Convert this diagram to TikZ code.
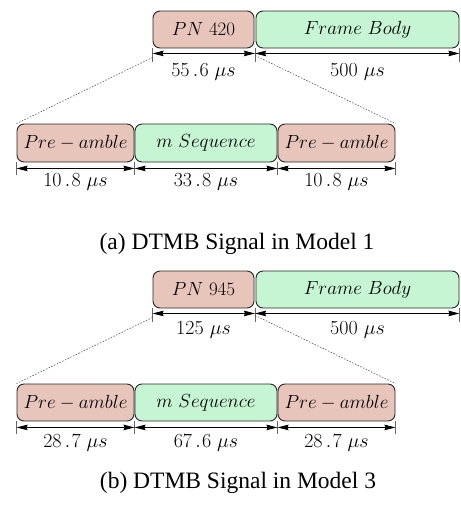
\RequirePackage{fix-cm}
\documentclass[tikz,border=0pt]{standalone}
\usepackage[no-math]{fontspec}
\newfontfamily\capfont{Liberation Serif}
\usetikzlibrary{arrows.meta,calc}
\definecolor{pinkfill}{RGB}{232,197,187}
\definecolor{greenfill}{RGB}{198,245,211}
\newcommand{\dotp}{\mkern3mu.\mkern1mu}
\tikzset{
  seg/.style={draw=black!85, line width=0.9pt, rounded corners=7pt, inner sep=0pt,
     minimum height=37pt, font=\fontsize{19}{22}\selectfont},
  pinkseg/.style={seg, fill=pinkfill},
  greenseg/.style={seg, fill=greenfill},
  tick/.style={draw=black!60, line width=0.6pt},
  dim/.style={draw=black, line width=0.8pt, {Stealth[length=11pt,width=5.5pt,inset=1pt]}-{Stealth[length=11pt,width=5.5pt,inset=1pt]}},
  dimlabel/.style={font=\fontsize{20}{22}\selectfont, inner sep=0pt},
  zoomline/.style={draw=black!65, line width=0.6pt, dash pattern=on 1.5pt off 1.5pt},
  caption/.style={inner sep=0pt}
}
\begin{document}
\begin{tikzpicture}[x=1pt,y=-1pt]
\useasboundingbox (0,0) rectangle (461,512);

% ---------- (a) ----------
\node[pinkseg, minimum width=101pt] (pn1) at (203.5,29.5) {$PN\ 420$};
\node[greenseg, minimum width=203pt] (fb1) at (357.5,29.5) {$Frame\ Body$};
\node[pinkseg, minimum width=117pt, minimum height=38pt] (pa1) at (75.5,143) {$Pre-amble$};
\node[greenseg, minimum width=142pt, minimum height=38pt] (ms1) at (206,143) {$m\ Sequence$};
\node[pinkseg, minimum width=117pt, minimum height=38pt] (pb1) at (336.5,143) {$Pre-amble$};

% ticks upper (a)
\draw[tick] (pn1.south west) -- ++(0,14);
\draw[tick] ($(pn1.south east)!0.5!(fb1.south west)$) coordinate (t1m) -- ++(0,14);
\draw[tick] (fb1.south east) -- ++(0,14);
\draw[dim] ([yshift=-5pt]pn1.south west) -- ([yshift=-5pt]t1m);
\draw[dim] ([yshift=-5pt]t1m) -- ([yshift=-5pt]fb1.south east);
\node[dimlabel] (l1) at ($(pn1.south)+(0,24)$) {$55\dotp6\ \mu s$};
\node[dimlabel] (l2) at ($(fb1.south)+(0,24)$) {$500\ \mu s$};

% ticks lower (a)
\draw[tick] (pa1.south west) -- ++(0,13);
\draw[tick] ($(pa1.south east)!0.5!(ms1.south west)$) coordinate (t2a) -- ++(0,13);
\draw[tick] ($(ms1.south east)!0.5!(pb1.south west)$) coordinate (t2b) -- ++(0,13);
\draw[tick] (pb1.south east) -- ++(0,13);
\draw[dim] ([yshift=-6pt]pa1.south west) -- ([yshift=-6pt]t2a);
\draw[dim] ([yshift=-6pt]t2a) -- ([yshift=-6pt]t2b);
\draw[dim] ([yshift=-6pt]t2b) -- ([yshift=-6pt]pb1.south east);
\node[dimlabel] (l3) at ($(pa1.south)+(0,20)$) {$10\dotp8\ \mu s$};
\node[dimlabel] (l4) at ($(ms1.south)+(0,20)$) {$33\dotp8\ \mu s$};
\node[dimlabel] (l5) at ($(pb1.south)+(0,20)$) {$10\dotp8\ \mu s$};

% zoom lines (a)
\draw[zoomline] ([yshift=-9pt]pn1.south west) -- (pa1.north west);
\draw[zoomline] ([yshift=-7pt]t1m) -- (pb1.north east);

\node[caption] (capa) at (237,244) {\capfont\fontsize{23.5}{26}\selectfont (a) DTMB Signal in Model 1};

% ---------- (b) ----------
\node[pinkseg, minimum width=101pt] (pn2) at (203.5,289.5) {$PN\ 945$};
\node[greenseg, minimum width=203pt] (fb2) at (357.5,289.5) {$Frame\ Body$};
\node[pinkseg, minimum width=117pt] (pa2) at (75.5,402.5) {$Pre-amble$};
\node[greenseg, minimum width=142pt] (ms2) at (206,402.5) {$m\ Sequence$};
\node[pinkseg, minimum width=117pt] (pb2) at (336.5,402.5) {$Pre-amble$};

\draw[tick] (pn2.south west) -- ++(0,14);
\draw[tick] ($(pn2.south east)!0.5!(fb2.south west)$) coordinate (t3m) -- ++(0,14);
\draw[tick] (fb2.south east) -- ++(0,14);
\draw[dim] ([yshift=-5pt]pn2.south west) -- ([yshift=-5pt]t3m);
\draw[dim] ([yshift=-5pt]t3m) -- ([yshift=-5pt]fb2.south east);
\node[dimlabel] (l6) at ($(pn2.south)+(0,22)$) {$125\ \mu s$};
\node[dimlabel] (l7) at ($(fb2.south)+(0,22)$) {$500\ \mu s$};

\draw[tick] (pa2.south west) -- ++(0,13);
\draw[tick] ($(pa2.south east)!0.5!(ms2.south west)$) coordinate (t4a) -- ++(0,13);
\draw[tick] ($(ms2.south east)!0.5!(pb2.south west)$) coordinate (t4b) -- ++(0,13);
\draw[tick] (pb2.south east) -- ++(0,13);
\draw[dim] ([yshift=-6pt]pa2.south west) -- ([yshift=-6pt]t4a);
\draw[dim] ([yshift=-6pt]t4a) -- ([yshift=-6pt]t4b);
\draw[dim] ([yshift=-6pt]t4b) -- ([yshift=-6pt]pb2.south east);
\node[dimlabel] (l8) at ($(pa2.south)+(0,22)$) {$28\dotp7\ \mu s$};
\node[dimlabel] (l9) at ($(ms2.south)+(0,22)$) {$67\dotp6\ \mu s$};
\node[dimlabel] (l10) at ($(pb2.south)+(0,22)$) {$28\dotp7\ \mu s$};

\draw[zoomline] ([yshift=-9pt]pn2.south west) -- (pa2.north west);
\draw[zoomline] ([yshift=-7pt]t3m) -- (pb2.north east);

\node[caption] (capb) at (238,483) {\capfont\fontsize{23.5}{26}\selectfont (b) DTMB Signal in Model 3};
\end{tikzpicture}
\end{document}
